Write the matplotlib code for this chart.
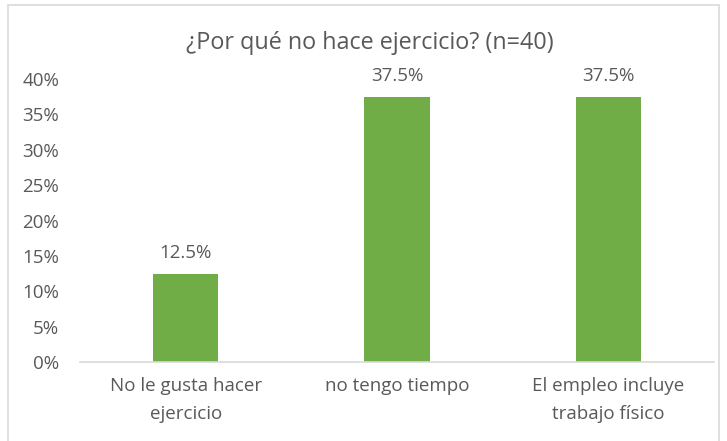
import matplotlib
matplotlib.use("Agg")
import matplotlib.pyplot as plt
from matplotlib.patches import Rectangle

categories = ["No le gusta hacer\nejercicio", "no tengo tiempo", "El empleo incluye\ntrabajo físico"]
values = [0.125, 0.375, 0.375]
labels = ["12.5%", "37.5%", "37.5%"]
yticks = [0, 0.05, 0.10, 0.15, 0.20, 0.25, 0.30, 0.35, 0.40]
ytick_labels = ["0%", "5%", "10%", "15%", "20%", "25%", "30%", "35%", "40%"]
title = "¿Por qué no hace ejercicio? (n=40)"

W, H = 727, 441
fig = plt.figure(figsize=(W/100, H/100), dpi=100)
plt.rcParams['font.family'] = ['Open Sans', 'DejaVu Sans']
txt = "#595959"

fig.patches.append(Rectangle((8/W, -0.01), (719-8)/W, 1 - 5/H + 0.01, transform=fig.transFigure,
                             fill=False, edgecolor="#d9d9d9", linewidth=1.2))

ax = fig.add_axes([80/W, 1-362/H, (714-80)/W, (362-79)/H])
x = range(len(categories))
ax.bar(x, values, width=0.31, color="#70AD47")
for xi, v, l in zip(x, values, labels):
    ax.text(xi, v + 0.016, l, ha="center", va="bottom", fontsize=13.5, color=txt)
ax.set_xlim(-0.5, 2.5)
ax.set_ylim(0, 0.4)
ax.set_yticks(yticks)
ax.set_yticklabels(ytick_labels, fontsize=13.5, color=txt)
ax.set_xticks(list(x))
ax.set_xticklabels(categories, fontsize=13.5, color=txt, linespacing=1.7)
for s in ["top", "right", "left"]:
    ax.spines[s].set_visible(False)
ax.spines["bottom"].set_color("#d9d9d9")
ax.spines["bottom"].set_linewidth(1.2)
ax.tick_params(axis="both", length=0)
ax.tick_params(axis="y", pad=15)
ax.tick_params(axis="x", pad=11)
fig.text(370/W, 1-43/H, title, ha="center", va="center", fontsize=16.8, color=txt)
fig.savefig("out.png", dpi=100)
